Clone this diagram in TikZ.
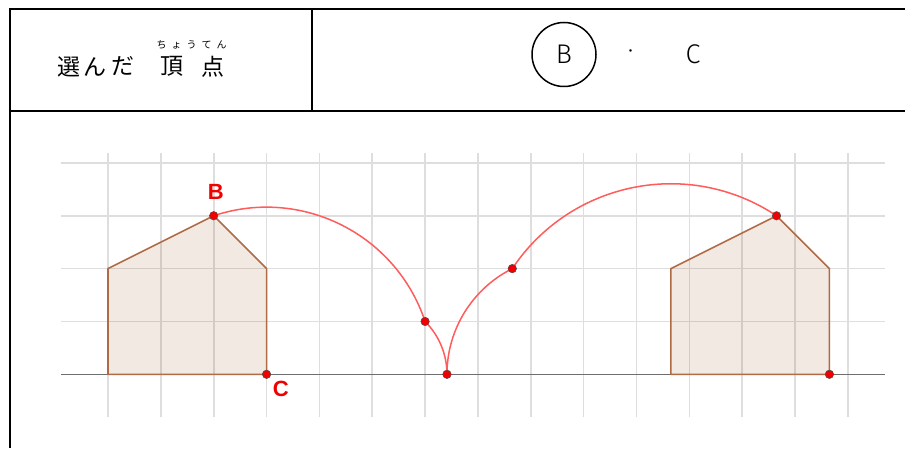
\documentclass[tikz,border=0pt]{standalone}
\usepackage{fontspec}
\usepackage{xcolor}
\usepackage{tikz}
\usetikzlibrary{positioning,calc}
\newfontfamily\jp{Noto Sans CJK JP}
\newfontfamily\fina{Fira Sans Light}
\setsansfont{Liberation Sans}
\definecolor{grade}{HTML}{DEDEDE}
\definecolor{eixo}{HTML}{6E6E6E}
\definecolor{marrom}{HTML}{B06A45}
\definecolor{fundo}{HTML}{924816}
\definecolor{arco}{HTML}{FF5C5C}
\definecolor{vermelho}{HTML}{F00000}

\begin{document}
\begin{tikzpicture}[x=1pt, y=1pt,
  moldura/.style={line width=2.3pt},
  kanji/.style={font=\jp\fontsize{23}{25}\selectfont, inner sep=0pt},
  furi/.style={font=\jp\fontsize{10}{12}\selectfont, inner sep=0pt},
  letra/.style={font=\fina\fontsize{27}{30}\selectfont, inner sep=0pt},
  linha/.style={draw=grade, line width=1.6pt},
  casa/.style={draw=marrom, line width=1.6pt, fill=fundo, fill opacity=0.12, line join=round},
  curva/.style={draw=arco, line width=1.5pt},
  ponto/.style={circle, fill=vermelho, draw=black!70, line width=0.5pt, inner sep=0pt, minimum size=8.5pt},
  rotulo/.style={text=vermelho, font=\sffamily\bfseries\fontsize{22}{24}\selectfont, inner sep=0pt}]

  \useasboundingbox (0,0) rectangle (905,448);

  \draw[moldura] (10,0) -- (10,439) -- (905,439);
  \draw[moldura] (10,337) -- (905,337);
  \draw[moldura] (312,439) -- (312,337);

  \node[kanji] (sen) at (68.5,381.5) {選};
  \node[kanji] (n) at (95,381.5) {ん};
  \node[kanji] (da) at (123,381.5) {だ};
  \node[kanji] (cho) at (172,381.5) {頂};
  \node[kanji] (ten) at (213,381.5) {点};
  \node[furi] (ruby) at (191.5,403) {ち\hspace{5pt}ょ\hspace{5pt}う\hspace{5pt}て\hspace{5pt}ん};

  \node[letra, circle, draw, line width=1.5pt, minimum size=64pt] (escB) at (564,393.5) {B};
  \node[font=\jp\fontsize{12}{14}\selectfont, inner sep=0pt] (meio) at (630.7,395) {・};
  \node[letra] (escC) at (693,393.5) {C};

  \begin{scope}[shift={(108,73.7)}, x=52.85pt, y=52.85pt]
    \foreach \i in {0,...,14}
      \draw[linha] (\i,-0.8) -- (\i,4.18);
    \foreach \j in {1,...,4}
      \draw[linha] (-0.88,\j) -- (14.7,\j);
    \draw[eixo, line width=1.2pt] (-0.88,0) -- (14.7,0);

    \draw[casa] (0,0) -- (3,0) -- (3,2) -- (2,3) -- (0,2) -- cycle;
    \draw[casa] (10.6503,0) -- (13.6503,0) -- (13.6503,2) -- (12.6503,3) -- (10.6503,2) -- cycle;

    \coordinate (B) at (2,3);
    \coordinate (C) at (3,0);
    \draw[curva] (B) arc[start angle=108.43, end angle=18.43, radius=3.1623] coordinate (P1)
      arc[start angle=45, end angle=0, radius=1.4142] coordinate (P2);
    \draw[curva] (P2) arc[start angle=180, end angle=116.57, radius=2.2361] coordinate (P3)
      arc[start angle=146.31, end angle=56.31, radius=3.6056] coordinate (B2);
    \coordinate (C2) at (13.6503,0);

    \foreach \p in {B,C,P1,P2,P3,B2,C2}
      \node[ponto] (n\p) at (\p) {};

    \node[rotulo, above=12pt of nB, xshift=2pt] (lB) {B};
    \node[rotulo, below right=3pt and 3pt of nC] (lC) {C};
  \end{scope}
\end{tikzpicture}
\end{document}
